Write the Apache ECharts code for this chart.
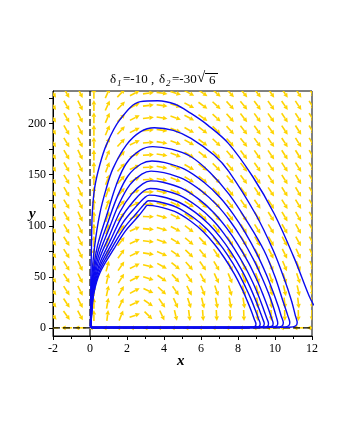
<!DOCTYPE html>
<html><head><meta charset="utf-8">
<script src="https://cdn.jsdelivr.net/npm/echarts@6/dist/echarts.min.js"></script>
<style>html,body{margin:0;padding:0;background:#fff}#c{width:340px;height:440px}</style>
</head><body><div id="c"></div>
<script>
const xTickLabels = [-2, 0, 2, 4, 6, 8, 10, 12];
const yTickLabels = [0, 50, 100, 150, 200];
const yTickMarks = [0, 25, 50, 75, 100, 125, 150, 175, 200, 225];

// direction-field grid
const fieldX = [-2, -1.263, -0.526, 0.211, 0.947, 1.684, 2.421, 3.158, 3.895, 4.632, 5.368, 6.105, 6.842, 7.579, 8.316, 9.053, 9.789, 10.526, 11.263, 12];
const fieldY = [0, 12.1, 24.2, 36.3, 48.4, 60.5, 72.6, 84.7, 96.8, 108.9, 121, 133.1, 145.2, 157.3, 169.4, 181.5, 193.6, 205.7, 217.8, 229.9];
// arrow angles in degrees (screen, counter-clockwise from +x), one row per fieldY
const angRow0  = [180,180,180,180,180,180,180,180,180,180,180,180,180,180,180,180,180,180,180,180];
const angRow1  = [-50,-55,-62,90,83,68,20,-45,-65,-77,-83,-86,-87,-88,-88,-88,-89,-89,-89,-89];
const angRow2  = [-52,-56,-63,90,80,63,25,-35,-55,-66,-72,-76,-79,-80,-81,-82,-82,-83,-83,-83];
const angRow3  = [-53,-57,-64,90,78,60,28,-25,-43,-55,-63,-68,-71,-73,-75,-76,-76,-77,-77,-77];
const angRow4  = [-54,-57,-64,90,77,58,28,-18,-35,-47,-55,-61,-65,-68,-70,-71,-71,-72,-72,-72];
const angRow5  = [-55,-58,-65,90,75,56,27,-13,-29,-40,-49,-55,-60,-63,-65,-66,-67,-67,-68,-68];
const angRow6  = [-55,-58,-65,90,74,54,26,-9,-24,-35,-44,-51,-56,-60,-62,-63,-64,-64,-65,-65];
const angRow7  = [-55,-58,-65,90,73,52,25,-6,-20,-31,-40,-47,-53,-57,-59,-60,-61,-62,-62,-62];
const angRow8  = [-56,-59,-65,90,72,51,25,-4,-17,-28,-37,-45,-51,-55,-57,-58,-59,-60,-61,-61];
const angRow9  = [-56,-59,-65,90,71,50,25,-2,-15,-26,-35,-43,-49,-53,-56,-57,-58,-59,-60,-60];
const angRow10 = [-56,-59,-65,90,70,49,25,0,-13,-24,-33,-41,-47,-52,-55,-56,-57,-58,-59,-60];
const angRow11 = [-56,-60,-65,90,70,49,25,1,-12,-23,-32,-40,-46,-51,-54,-56,-57,-58,-59,-60];
const angRow12 = [-57,-60,-65,90,69,48,25,2,-11,-22,-31,-39,-46,-50,-53,-55,-57,-58,-59,-59];
const angRow13 = [-57,-60,-65,90,69,48,25,3,-11,-21,-30,-38,-45,-50,-53,-55,-56,-57,-58,-59];
const angRow14 = [-57,-60,-64,90,68,47,25,4,-10,-21,-30,-38,-45,-49,-53,-55,-56,-57,-58,-59];
const angRow15 = [-57,-60,-64,90,68,47,26,5,-10,-20,-29,-37,-44,-49,-52,-54,-56,-57,-58,-59];
const angRow16 = [-57,-60,-64,90,67,47,26,5,-9,-20,-29,-37,-44,-48,-52,-54,-55,-57,-58,-58];
const angRow17 = [-57,-60,-64,90,67,46,27,6,-9,-19,-28,-36,-43,-48,-52,-54,-55,-56,-57,-58];
const angRow18 = [-57,-60,-64,90,66,46,27,7,-8,-19,-28,-36,-43,-48,-51,-53,-55,-56,-57,-58];
const angRow19 = [-57,-60,-64,90,66,46,28,8,-8,-18,-27,-35,-42,-47,-51,-53,-55,-56,-57,-58];
const fieldAngles = [angRow0,angRow1,angRow2,angRow3,angRow4,angRow5,angRow6,angRow7,angRow8,angRow9,
  angRow10,angRow11,angRow12,angRow13,angRow14,angRow15,angRow16,angRow17,angRow18,angRow19];

// trajectories, outermost first
const curve1 = [[0.02,0],[0.03,20],[0.05,50],[0.08,80],[0.12,111],[0.25,137],[0.52,159],[0.88,179],[1.6,203.5],[2.72,221.6],[3.66,222.5],[4.6,219],[5.46,210],[6.36,198.6],[7.48,180.7],[8.8,148],[9.95,112],[11,70],[11.84,31.4],[12.1,22]];
const curve2 = [[0.03,0],[0.05,20],[0.1,50],[0.25,80],[0.52,111],[0.88,136.6],[1.24,156],[1.96,179],[2.72,192],[3.48,196],[4.5,193.5],[5.46,185.6],[6.72,169],[7.51,153],[8.96,111],[9.9,76],[10.5,48],[10.9,26],[11.1,12],[11.2,5],[11.1,1.6],[10.75,0.6],[9.5,0.4],[0.05,0.3]];
const curve3 = [[0.03,0],[0.06,20],[0.14,50],[0.4,80],[0.95,113],[1.42,140],[1.96,161],[2.72,174],[3.39,177.5],[4.4,175],[5.46,167.6],[6.5,152],[7.51,131],[8.5,104],[9.4,76],[10.0,50],[10.45,25],[10.7,11.5],[10.8,5],[10.72,1.8],[10.4,0.7],[9.4,0.4],[0.05,0.3]];
const curve4 = [[0.03,0],[0.06,18],[0.15,46],[0.42,74],[1.0,105],[1.49,129],[2.06,149],[2.76,160.5],[3.35,163.5],[4.06,161.9],[5.13,155.3],[6.19,142.2],[7.04,127.5],[7.75,111.2],[8.39,93.2],[9.03,72],[9.53,52.3],[9.88,36],[10.17,21.3],[10.34,11.4],[10.45,4.9],[10.38,1.8],[10.1,0.7],[9.2,0.4],[0.05,0.3]];
const curve5 = [[0.04,0],[0.07,17],[0.16,43],[0.44,69],[1.05,98],[1.56,121],[2.15,140],[2.8,150.5],[3.3,153.5],[3.99,152],[5.03,145.8],[6.06,133.5],[6.89,119.7],[7.58,104.4],[8.2,87.5],[8.82,67.5],[9.3,49.1],[9.65,33.8],[9.92,20],[10.07,10.7],[10.15,4.6],[10.08,1.7],[9.8,0.7],[9.0,0.4],[0.05,0.3]];
const curve6 = [[0.04,0],[0.07,16],[0.17,40],[0.46,65],[1.09,92],[1.63,114],[2.25,131],[2.85,141],[3.28,144],[3.94,142.6],[4.94,136.8],[5.93,125.3],[6.72,112.3],[7.38,97.9],[7.98,82.1],[8.58,63.4],[9.04,46.1],[9.37,31.7],[9.64,18.7],[9.8,10.1],[9.9,4.3],[9.84,1.6],[9.55,0.7],[8.8,0.4],[0.05,0.3]];
const curve7 = [[0.04,0],[0.08,15],[0.18,38],[0.48,61],[1.14,87],[1.7,108],[2.35,124],[2.9,134],[3.25,136.5],[3.89,135.1],[4.85,129.7],[5.81,118.8],[6.58,106.5],[7.22,92.8],[7.79,77.8],[8.37,60.1],[8.82,43.7],[9.14,30],[9.39,17.7],[9.55,9.6],[9.65,4.1],[9.59,1.5],[9.35,0.7],[8.6,0.4],[0.05,0.3]];
const curve8 = [[0.05,0],[0.08,14],[0.19,36],[0.5,58.5],[1.19,83],[1.78,103],[2.45,118],[2.95,127.5],[3.2,130],[3.82,128.7],[4.76,123.5],[5.69,113.1],[6.43,101.4],[7.06,88.4],[7.62,74.1],[8.18,57.2],[8.61,41.6],[8.92,28.6],[9.17,16.9],[9.33,9.1],[9.42,3.9],[9.36,1.5],[9.12,0.7],[8.4,0.4],[0.05,0.3]];
const curve9 = [[0.05,0],[0.09,14],[0.2,35],[0.52,56],[1.24,80],[1.85,98],[2.55,113],[2.98,122],[3.15,124.5],[3.76,123.3],[4.66,118.3],[5.57,108.3],[6.3,97.1],[6.9,84.7],[7.45,71],[7.99,54.8],[8.41,39.8],[8.72,27.4],[8.96,16.2],[9.11,8.7],[9.2,3.7],[9.14,1.4],[8.9,0.7],[8.2,0.4],[0.05,0.3]];
const curve10 = [[0.05,0],[0.09,13],[0.21,34],[0.54,54],[1.28,77],[1.92,95],[2.6,109],[2.95,117],[3.1,120],[3.69,118.8],[4.57,114],[5.45,104.4],[6.15,93.6],[6.74,81.6],[7.27,68.4],[7.8,52.8],[8.21,38.4],[8.5,26.4],[8.74,15.6],[8.88,8.4],[8.97,3.6],[8.92,1.4],[8.7,0.7],[8.0,0.4],[0.05,0.3]];
const curves = [curve1,curve2,curve3,curve4,curve5,curve6,curve7,curve8,curve9,curve10];

const arrowData = [];
fieldY.forEach((y, j) => fieldX.forEach((x, i) => arrowData.push([x, y, fieldAngles[j][i]])));

const FONT = '"Liberation Serif","Times New Roman",serif';
const chart = echarts.init(document.getElementById('c'), null, {renderer: 'canvas'});

function renderArrow(params, api) {
  const c = api.coord([api.value(0), api.value(1)]);
  const a = api.value(2) * Math.PI / 180;
  const L = 11, H = 4.5, W = 2.3;
  const dx = Math.cos(a), dy = -Math.sin(a);
  const tail = [c[0] - dx * L / 2, c[1] - dy * L / 2];
  const tip = [c[0] + dx * L / 2, c[1] + dy * L / 2];
  const base = [tip[0] - dx * H, tip[1] - dy * H];
  const px = -dy, py = dx;
  return {
    type: 'group',
    children: [
      {type: 'line', shape: {x1: tail[0], y1: tail[1], x2: base[0], y2: base[1]},
       style: {stroke: '#FFD400', lineWidth: 1.6}},
      {type: 'polygon', shape: {points: [tip, [base[0] + px * W, base[1] + py * W], [base[0] - px * W, base[1] - py * W]]},
       style: {fill: '#FFD400'}}
    ]
  };
}

const series = [
  {type: 'custom', renderItem: renderArrow, data: arrowData, clip: true, z: 1, silent: true},
  {type: 'line', data: [[0, -8], [0, 232]], showSymbol: false, symbol: 'none', z: 2,
   lineStyle: {color: '#000', width: 1.2, type: [7, 3]}},
  {type: 'line', data: [[-2, 0], [12, 0]], showSymbol: false, symbol: 'none', z: 2,
   lineStyle: {color: '#000', width: 1.2, type: [7, 3]}}
];
curves.forEach(cv => series.push({
  type: 'line', data: cv, showSymbol: false, symbol: 'none', smooth: 0.35, z: 3, clip: true,
  lineStyle: {color: '#0A0AF0', width: 1.4}
}));

chart.setOption({
  animation: false,
  backgroundColor: '#fff',
  grid: {left: 53, top: 91, width: 259, height: 245, show: true, borderColor: '#000', borderWidth: 1, backgroundColor: 'transparent'},
  xAxis: {
    type: 'value', min: -2, max: 12, interval: 2,
    axisLine: {show: true, onZero: false, lineStyle: {color: '#000'}},
    axisTick: {show: true, length: 4, lineStyle: {color: '#000'}},
    minorTick: {show: true, splitNumber: 2, length: 3, lineStyle: {color: '#000'}},
    splitLine: {show: false},
    axisLabel: {color: '#000', fontFamily: FONT, fontSize: 12, margin: 7, customValues: xTickLabels}
  },
  yAxis: {
    type: 'value', min: -8, max: 232,
    axisLine: {show: true, onZero: false, lineStyle: {color: '#000'}},
    axisTick: {show: true, length: 4, lineStyle: {color: '#000'}, customValues: yTickMarks},
    splitLine: {show: false},
    axisLabel: {color: '#000', fontFamily: FONT, fontSize: 12, margin: 7, customValues: yTickLabels}
  },
  graphic: [
    {type: 'text', left: 110, top: 73, style: {text: 'δ', font: '13px ' + FONT, fill: '#000'}},
    {type: 'text', left: 117, top: 79, style: {text: '1', font: 'italic 9px ' + FONT, fill: '#000'}},
    {type: 'text', left: 123, top: 73, style: {text: '=-10 ,', font: '13px ' + FONT, fill: '#000'}},
    {type: 'text', left: 159, top: 73, style: {text: 'δ', font: '13px ' + FONT, fill: '#000'}},
    {type: 'text', left: 166, top: 79, style: {text: '2', font: 'italic 9px ' + FONT, fill: '#000'}},
    {type: 'text', left: 172, top: 73, style: {text: '=-30', font: '13px ' + FONT, fill: '#000'}},
    {type: 'text', left: 197, top: 71, style: {text: '√', font: '15px ' + FONT, fill: '#000'}},
    {type: 'text', left: 209, top: 74, style: {text: '6', font: '13px ' + FONT, fill: '#000'}},
    {type: 'line', shape: {x1: 205, y1: 73.5, x2: 218, y2: 73.5}, style: {stroke: '#000', lineWidth: 1}},
    {type: 'text', left: 177, top: 354, style: {text: 'x', font: 'italic bold 15px ' + FONT, fill: '#000'}},
    {type: 'text', left: 29, top: 207, style: {text: 'y', font: 'italic bold 15px ' + FONT, fill: '#000'}}
  ],
  series: series
});
</script>
</body></html>
